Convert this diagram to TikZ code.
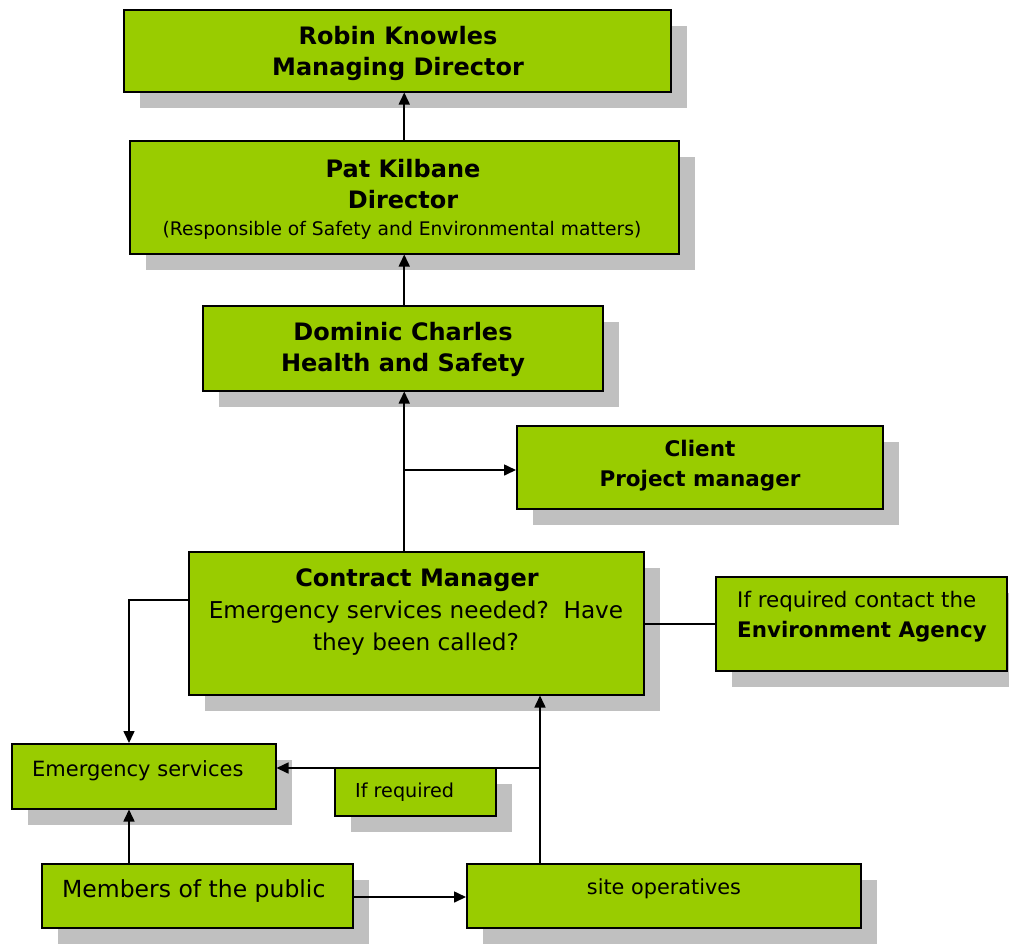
\documentclass[tikz,border=0pt]{standalone}
\usepackage{fontspec}
\setmainfont{DejaVu Sans}
\usetikzlibrary{arrows.meta,shadows}
\definecolor{boxgreen}{HTML}{99CC00}
\definecolor{shadowgray}{HTML}{C0C0C0}
\begin{document}
\begin{tikzpicture}[x=1pt,y=-1pt,
  box/.style={draw=black, line width=1.5pt, fill=boxgreen, anchor=north west, inner sep=0pt,
    drop shadow={shadow xshift=16pt, shadow yshift=-16pt, fill=shadowgray, opacity=1}},
  big/.style={font=\fontsize{24}{31}\selectfont\bfseries, align=center, inner sep=0pt},
  reg/.style={font=\fontsize{23.2}{32}\selectfont, align=center, inner sep=0pt},
  conn/.style={line width=1.6pt, -{Triangle[length=12pt,width=11pt]}},
  link/.style={line width=1.6pt}]
\useasboundingbox (0,0) rectangle (1009,943);
% boxes
\node[box, minimum width=547pt, minimum height=82pt] (rk) at (123,9) {};
\node[box, minimum width=549pt, minimum height=113pt] (pk) at (129,140) {};
\node[box, minimum width=400pt, minimum height=85pt] (dc) at (202,305) {};
\node[box, minimum width=366pt, minimum height=83pt] (cl) at (516,425) {};
\node[box, minimum width=455pt, minimum height=143pt] (cm) at (188,551) {};
\node[box, minimum width=291pt, minimum height=94pt] (ea) at (715,576) {};
\node[box, minimum width=264pt, minimum height=65pt] (es) at (11,743) {};
\node[box, minimum width=161pt, minimum height=48pt] (ir) at (334,767) {};
\node[box, minimum width=311pt, minimum height=64pt] (mp) at (41,863) {};
\node[box, minimum width=394pt, minimum height=64pt] (so) at (466,863) {};
% texts
\node[big] (rkt) at (398,53) {Robin Knowles\\Managing Director};
\node[big] (pkt) at (403,184) {Pat Kilbane\\Director};
\node[font=\fontsize{18.7}{22}\selectfont, inner sep=0pt] (pks) at (402,230) {(Responsible of Safety and Environmental matters)};
\node[big] (dct) at (403,349) {Dominic Charles\\Health and Safety};
\node[big, font=\fontsize{21.5}{30}\selectfont\bfseries] (clt) at (700,466) {Client\\Project manager};
\node[big] (cmt) at (417,580) {Contract Manager};
\node[reg] (cms) at (416,628) {Emergency services needed?\ \ Have\\they been called?};
\node[font=\fontsize{21.4}{30}\selectfont, align=left, inner sep=0pt, anchor=west] (eat) at (737,617) {If required contact the\\\textbf{Environment Agency}};
\node[font=\fontsize{21}{25}\selectfont, inner sep=0pt, anchor=west] (est) at (32,771) {Emergency services};
\node[font=\fontsize{19.2}{22}\selectfont, inner sep=0pt, anchor=west] (irt) at (355,792) {If required};
\node[font=\fontsize{23.5}{27}\selectfont, inner sep=0pt, anchor=west] (mpt) at (62,891) {Members of the public};
\node[font=\fontsize{20.8}{24}\selectfont, inner sep=0pt] (sot) at (664,889) {site operatives};
% helper coordinates
\coordinate (xl) at (129,0);
\coordinate (xs) at (540,0);
\coordinate (yc) at (0,600);
\coordinate (yr) at (0,768);
\coordinate (yb) at (0,470);
% connectors
\draw[conn] (pk.north) -- (pk.north |- rk.south);
\draw[conn] (dc.north -| pk.north) -- (pk.south);
\draw[conn] (pk.south |- cm.north) -- (pk.south |- dc.south);
\draw[conn] (pk.south |- yb) -- (cl.west |- yb);
\draw[conn] (cm.west |- yc) -| (xl |- es.north);
\draw[link] (cm.east |- ea.west) -- (ea.west);
\draw[conn] (xs |- so.north) -- (xs |- cm.south);
\draw[conn] (xs |- yr) -- (es.east |- yr);
\draw[conn] (xl |- mp.north) -- (xl |- es.south);
\draw[conn] (mp.east |- 0,897) -- (so.west |- 0,897);
\end{tikzpicture}
\end{document}
